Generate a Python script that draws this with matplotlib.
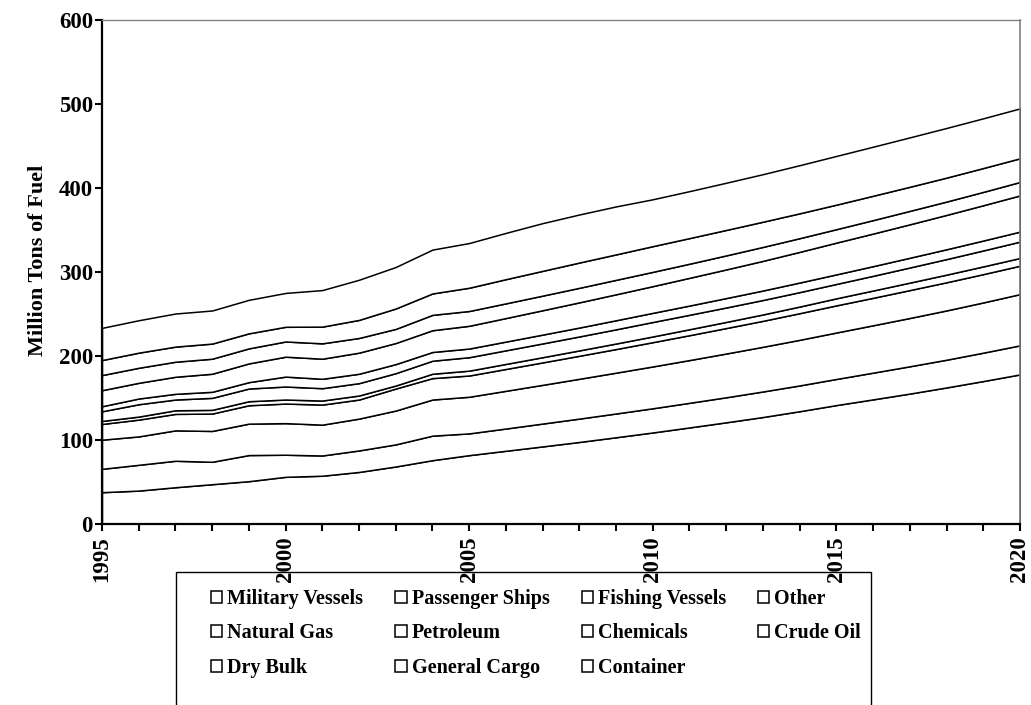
import numpy as np
import matplotlib
matplotlib.use("Agg")
import matplotlib.pyplot as plt
from matplotlib.patches import Rectangle
from matplotlib.ticker import MultipleLocator

years = list(range(1995, 2021))

# Upper boundary (cumulative total) of each stacked band
military_top = [37.9, 39.8, 43.8, 47.4, 51.0, 56.2, 57.5, 62.0, 68.5, 76.0, 82.0, 87.2, 92.4, 97.7, 103.3, 109.0,
                115.0, 121.1, 127.4, 134.3, 141.6, 148.4, 155.3, 162.6, 170.2, 178.1]
passenger_top = [65.7, 70.5, 75.3, 74.1, 82.1, 82.5, 81.6, 87.6, 94.8, 105.2, 107.9, 113.7, 119.6, 125.5, 131.6, 137.8,
                 144.3, 150.9, 157.8, 165.0, 172.7, 180.2, 187.8, 195.6, 204.0, 212.7]
fishing_top = [100.4, 104.3, 111.5, 110.8, 119.5, 120.1, 118.3, 125.5, 135.1, 148.2, 151.5, 158.6, 165.7, 172.9, 180.2,
               187.6, 195.2, 203.0, 211.0, 219.3, 228.0, 236.6, 245.3, 254.3, 263.8, 273.7]
other_top = [119.1, 124.3, 131.1, 131.5, 141.4, 143.4, 142.2, 148.2, 161.3, 173.7, 176.8, 184.6, 192.4, 200.3, 208.3,
             216.5, 224.8, 233.3, 241.9, 251.0, 260.3, 269.3, 278.5, 287.8, 297.5, 307.5]
natgas_top = [122.7, 127.9, 135.4, 135.9, 146.2, 148.2, 147.0, 153.0, 164.9, 178.9, 182.6, 190.6, 198.6, 206.7, 214.9,
              223.3, 231.9, 240.6, 249.5, 258.9, 268.7, 278.0, 287.4, 296.9, 306.7, 316.7]
petroleum_top = [134.2, 142.6, 148.2, 150.2, 161.3, 163.7, 161.7, 167.7, 179.6, 194.4, 198.6, 206.8, 215.0, 223.3, 231.8,
                 240.5, 249.1, 257.8, 266.7, 276.1, 285.8, 295.5, 305.4, 315.4, 325.7, 336.2]
chemicals_top = [140.2, 149.4, 155.0, 157.4, 168.9, 175.5, 172.9, 178.9, 190.4, 204.8, 208.9, 217.2, 225.5, 233.9, 242.6,
                 251.4, 260.1, 269.0, 278.0, 287.5, 297.2, 307.0, 317.0, 327.1, 337.5, 348.1]
crude_top = [159.3, 168.1, 175.3, 178.9, 191.2, 199.2, 196.8, 204.0, 215.5, 230.7, 236.0, 245.2, 254.5, 263.9, 273.5,
             283.2, 293.1, 303.1, 313.3, 324.0, 335.0, 345.8, 356.8, 368.0, 379.5, 391.2]
drybulk_top = [177.3, 186.0, 193.2, 196.8, 209.1, 217.3, 215.1, 221.5, 232.3, 249.0, 253.6, 262.7, 271.9, 281.2, 290.7,
               300.2, 309.9, 319.8, 329.9, 340.3, 351.0, 361.8, 372.8, 383.9, 395.4, 407.2]
gencargo_top = [195.2, 204.0, 211.2, 214.8, 227.0, 234.8, 235.0, 243.0, 256.6, 274.5, 281.3, 291.5, 301.4, 311.3, 321.0,
                330.8, 340.4, 350.1, 359.9, 369.9, 380.2, 390.8, 401.5, 412.4, 423.8, 435.4]
container_top = [233.5, 242.6, 250.6, 254.2, 266.9, 275.1, 278.5, 290.8, 306.0, 326.7, 334.5, 346.6, 358.2, 368.5, 378.1,
                 386.6, 396.3, 406.3, 416.5, 427.2, 438.2, 449.2, 460.3, 471.5, 483.0, 494.8]

categories = ["Military Vessels", "Passenger Ships", "Fishing Vessels", "Other", "Natural Gas", "Petroleum",
              "Chemicals", "Crude Oil", "Dry Bulk", "General Cargo", "Container"]
tops = np.array([military_top, passenger_top, fishing_top, other_top, natgas_top, petroleum_top,
                 chemicals_top, crude_top, drybulk_top, gencargo_top, container_top])
values = np.diff(np.vstack([np.zeros(len(years)), tops]), axis=0)

plt.rcParams['font.family'] = ['Liberation Serif', 'DejaVu Serif']
plt.rcParams['font.weight'] = 'bold'

fig = plt.figure(figsize=(10.31, 7.05), dpi=100)
ax = fig.add_axes([0.0989, 0.2567, 0.8904, 0.7149])

polys = ax.stackplot(years, values, labels=categories, colors=['white'] * len(categories),
                     edgecolor='black', linewidth=1.1)

ax.set_xlim(1995, 2020)
ax.set_ylim(0, 600)
ax.xaxis.set_major_locator(MultipleLocator(5))
ax.xaxis.set_minor_locator(MultipleLocator(1))
ax.yaxis.set_major_locator(MultipleLocator(100))
ax.tick_params(axis='both', which='both', direction='out', length=5, width=1.5, colors='black')
ax.tick_params(axis='x', which='major', labelsize=16.5, pad=4)
ax.tick_params(axis='y', which='major', labelsize=16.5, pad=1.5)
for lab in ax.get_xticklabels():
    lab.set_rotation(90)
    lab.set_fontweight('bold')
for lab in ax.get_yticklabels():
    lab.set_fontweight('bold')

ax.spines['left'].set_linewidth(1.6)
ax.spines['bottom'].set_linewidth(1.6)
ax.spines['top'].set_color('#808080')
ax.spines['right'].set_color('#808080')
ax.spines['top'].set_linewidth(1.0)
ax.spines['right'].set_linewidth(1.2)

ax.set_ylabel("Million Tons of Fuel", fontsize=16, fontweight='bold')
ax.yaxis.set_label_coords(-0.0585, 0.524)

# legend laid out row-wise as in the reference
order = [0, 4, 8, 1, 5, 9, 2, 6, 10, 3, 7]
handles = [polys[i] for i in order]
labels = [categories[i] for i in order]
leg = fig.legend(handles, labels, ncol=4, loc='upper left', bbox_to_anchor=(0.197, 0.176),
                 frameon=False, fontsize=14.5, handlelength=0.55, handleheight=0.55, handletextpad=0.25,
                 columnspacing=1.6, labelspacing=0.72, borderaxespad=0)
for t in leg.get_texts():
    t.set_fontweight('bold')
fig.patches.append(Rectangle((0.1707, -0.02), 0.674, 0.2087, transform=fig.transFigure,
                             facecolor='none', edgecolor='black', linewidth=1.0))

fig.savefig("out.png", dpi=100)
